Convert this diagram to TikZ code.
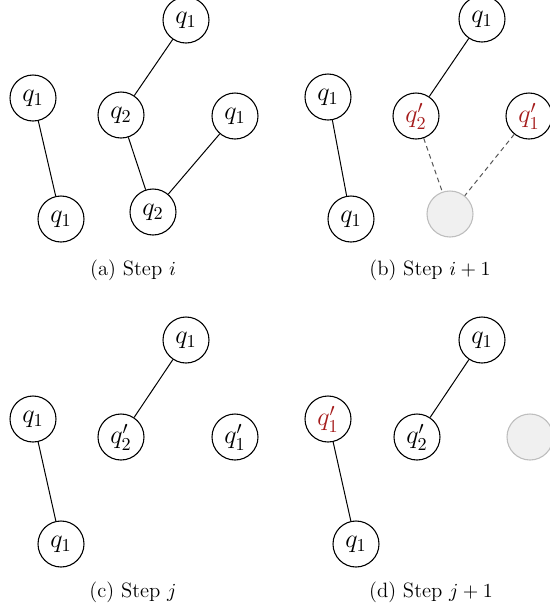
\documentclass[tikz,border=0pt]{standalone}
\usepackage{amsmath}
\definecolor{qred}{RGB}{165,28,28}
\definecolor{ghostfill}{RGB}{240,240,240}
\definecolor{ghostdraw}{RGB}{190,190,190}
\definecolor{dashgray}{RGB}{85,85,85}
\tikzset{
  qnode/.style={circle,draw=black,line width=0.6pt,minimum size=25.3pt,inner sep=0pt,font=\Large},
  ghost/.style={circle,draw=ghostdraw,fill=ghostfill,line width=0.6pt,minimum size=25.3pt,inner sep=0pt},
  link/.style={line width=0.55pt,black},
  ghostlink/.style={line width=0.55pt,dashgray,dash pattern=on 2.6pt off 2pt},
  capt/.style={font=\fontsize{11.4}{13}\selectfont,inner sep=0pt}
}
\begin{document}
\begin{tikzpicture}[x=0.55pt,y=-0.55pt]
\useasboundingbox (0,0) rectangle (550,611);
% (a)
\node[qnode] (a1) at (186,20) {$q_1$};
\node[qnode] (a2) at (33,98) {$q_1$};
\node[qnode] (a3) at (61,219) {$q_1$};
\node[qnode] (a4) at (121,115) {$q_2$};
\node[qnode] (a5) at (235,116) {$q_1$};
\node[qnode] (a6) at (153,212) {$q_2$};
\draw[link] (a1) -- (a4);
\draw[link] (a2) -- (a3);
\draw[link] (a4) -- (a6);
\draw[link] (a5) -- (a6);
\node[capt] (ca) at (133,270) {(a) Step $i$};
% (b)
\node[qnode] (b1) at (482,19) {$q_1$};
\node[qnode] (b2) at (328,97) {$q_1$};
\node[qnode] (b3) at (351,219) {$q_1$};
\node[qnode,text=qred] (b4) at (416,116) {$q_2'$};
\node[qnode,text=qred] (b5) at (529,116) {$q_1'$};
\node[ghost] (b6) at (450,214) {};
\draw[link] (b1) -- (b4);
\draw[link] (b2) -- (b3);
\draw[ghostlink] (b4) -- (b6);
\draw[ghostlink] (b5) -- (b6);
\node[capt] (cb) at (430,270) {(b) Step $i+1$};
% (c)
\node[qnode] (c1) at (186,340) {$q_1$};
\node[qnode] (c2) at (33,419) {$q_1$};
\node[qnode] (c3) at (61,544) {$q_1$};
\node[qnode] (c4) at (121,437) {$q_2'$};
\node[qnode] (c5) at (235,437) {$q_1'$};
\draw[link] (c1) -- (c4);
\draw[link] (c2) -- (c3);
\node[capt] (cc) at (133,592) {(c) Step $j$};
% (d)
\node[qnode] (d1) at (482,340) {$q_1$};
\node[qnode,text=qred] (d2) at (328,419) {$q_1'$};
\node[qnode] (d3) at (356,544) {$q_1$};
\node[qnode] (d4) at (417,437) {$q_2'$};
\node[ghost] (d5) at (530,437) {};
\draw[link] (d1) -- (d4);
\draw[link] (d2) -- (d3);
\node[capt] (cd) at (431,592) {(d) Step $j+1$};
\end{tikzpicture}
\end{document}
